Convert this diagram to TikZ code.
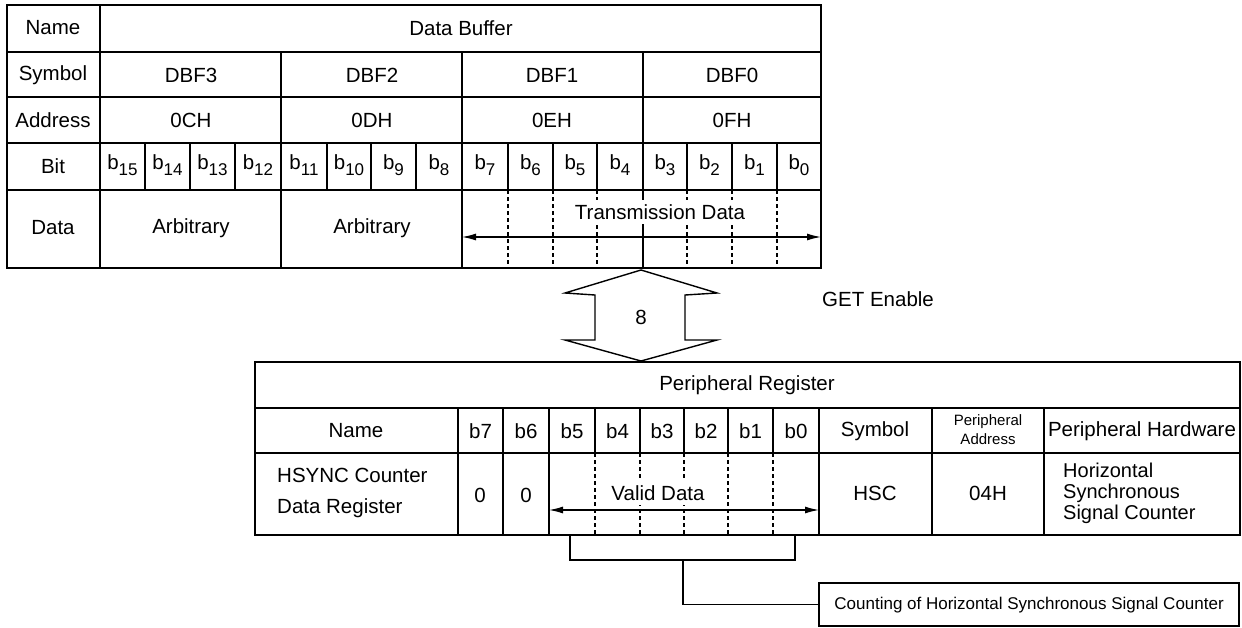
\documentclass[tikz,border=0pt]{standalone}
\usepackage{fontspec}
\setmainfont{Liberation Sans}
\usetikzlibrary{arrows.meta}
\begin{document}
\begin{tikzpicture}[x=1pt,y=-1pt,
  thickline/.style={line width=2.8pt},
  thinline/.style={line width=1.4pt},
  dashline/.style={line width=1.2pt, dash pattern=on 4pt off 3pt},
  lbl/.style={font=\fontsize{20.5}{24}\selectfont, inner sep=0pt},
  smalllbl/.style={font=\fontsize{15}{19}\selectfont, inner sep=0pt, align=center},
  masklbl/.style={lbl, fill=white, inner xsep=2pt, inner ysep=4pt},
  dimarrow/.style={line width=1.3pt, {Latex[length=14pt,width=7pt]}-{Latex[length=14pt,width=7pt]}}
]
\useasboundingbox (0,0) rectangle (1242,627);
\fill[white] (0,0) rectangle (1242,627);

% ---------------- top table: Data Buffer ----------------
\foreach \y in {52,97,143,190} \draw[thinline] (7,\y) -- (821,\y);
\draw[thinline] (100,5) -- (100,268);
\foreach \x in {281,462,643} \draw[thinline] (\x,52) -- (\x,268);
\foreach \x in {145,190,235,327,371,416,508,553,597,687,732,777}
  \draw[thinline] (\x,143) -- (\x,190);
\foreach \x in {508,553,597,687,732,777}
  \draw[dashline] (\x,190) -- (\x,268);
\draw[thickline] (7,5) rectangle (821,268);

\node[lbl] (tname) at (53,28) {Name};
\node[lbl] (tsym) at (53,75) {Symbol};
\node[lbl] (taddr) at (53,120) {Address};
\node[lbl] (tbit) at (53,166) {Bit};
\node[lbl] (tdata) at (53,228) {Data};
\node[lbl] (dbuf) at (461,28) {Data Buffer};
\node[lbl] (dbf3) at (191,75) {DBF3};
\node[lbl] (dbf2) at (372,75) {DBF2};
\node[lbl] (dbf1) at (552,75) {DBF1};
\node[lbl] (dbf0) at (732,75) {DBF0};
\node[lbl] (a0c) at (191,120) {0CH};
\node[lbl] (a0d) at (372,120) {0DH};
\node[lbl] (a0e) at (552,120) {0EH};
\node[lbl] (a0f) at (732,120) {0FH};
\foreach \xl/\xr/\n in {100/145/15,145/190/14,190/235/13,235/281/12,281/327/11,327/371/10,371/416/9,416/462/8,462/508/7,508/553/6,553/597/5,597/643/4,643/687/3,687/732/2,732/777/1,777/821/0}
  \node[lbl] (tb\n) at ({(\xl+\xr)/2},165) {b\raisebox{-6pt}{\fontsize{17}{17}\selectfont\n}};
\node[lbl] (arb3) at (191,228) {Arbitrary};
\node[lbl] (arb2) at (372,228) {Arbitrary};
\node[masklbl] (trd) at (660,212) {Transmission Data};
\coordinate (tdl) at (462,237);
\coordinate (tdr) at (821,237);
\draw[dimarrow] (tdl) -- (tdr);

% ---------------- fat double arrow ----------------
\draw[thinline, fill=white] (641,270) -- (717,293) -- (685,295) -- (685,340) -- (717,340)
  -- (641,361) -- (565,340) -- (595,340) -- (595,295) -- (565,293) -- cycle;
\node[lbl] (eight) at (641,317) {8};
\node[lbl, anchor=west] (get) at (822,299) {GET Enable};

% ---------------- bottom table: Peripheral Register ----------------
\foreach \y in {408,453} \draw[thinline] (255,\y) -- (1240,\y);
\foreach \x in {458,503,549,819,932,1044} \draw[thinline] (\x,408) -- (\x,535);
\foreach \x in {595,640,684,728,773} {
  \draw[thinline] (\x,408) -- (\x,453);
  \draw[dashline] (\x,453) -- (\x,535);
}
\draw[thickline] (255,362) rectangle (1240,535);

\node[lbl] (preg) at (747,385) {Peripheral Register};
\node[lbl] (bname) at (356,431) {Name};
\foreach \xl/\xr/\n in {458/503/7,503/549/6,549/595/5,595/640/4,640/684/3,684/728/2,728/773/1,773/819/0}
  \node[lbl] (bb\n) at ({(\xl+\xr)/2},431) {b\n};
\node[lbl] (bsym) at (875,431) {Symbol};
\node[smalllbl] (baddr) at (988,430) {Peripheral\\Address};
\node[lbl] (bhw) at (1142,431) {Peripheral Hardware};
\node[lbl, anchor=west, align=left, font=\fontsize{20.5}{31}\selectfont] (hsync) at (277,493) {HSYNC Counter\\Data Register};
\node[lbl] (z7) at (480,495) {0};
\node[lbl] (z6) at (526,495) {0};
\node[masklbl] (vd) at (658,493) {Valid Data};
\coordinate (vdl) at (549,510);
\coordinate (vdr) at (819,510);
\draw[dimarrow] (vdl) -- (vdr);
\node[lbl] (hsc) at (875,493) {HSC};
\node[lbl] (h04) at (988,493) {04H};
\node[lbl, anchor=west, align=left, font=\fontsize{20}{21}\selectfont] (hwd) at (1063,493) {Horizontal\\Synchronous\\Signal Counter};

% ---------------- bracket and counting box ----------------
\node[draw, line width=2.2pt, minimum width=420pt, minimum height=43pt, anchor=north west,
  inner sep=0pt, font=\fontsize{17}{18}\selectfont] (cnt) at (818,582)
  {Counting of Horizontal Synchronous Signal Counter};
\coordinate (brl) at (570,535);
\coordinate (brr) at (795,535);
\coordinate (brk) at (683,560);
\draw[thinline] (brl) -- (570,560) -- (795,560) -- (brr);
\draw[thinline] (brk) |- (cnt.west);
\end{tikzpicture}
\end{document}
